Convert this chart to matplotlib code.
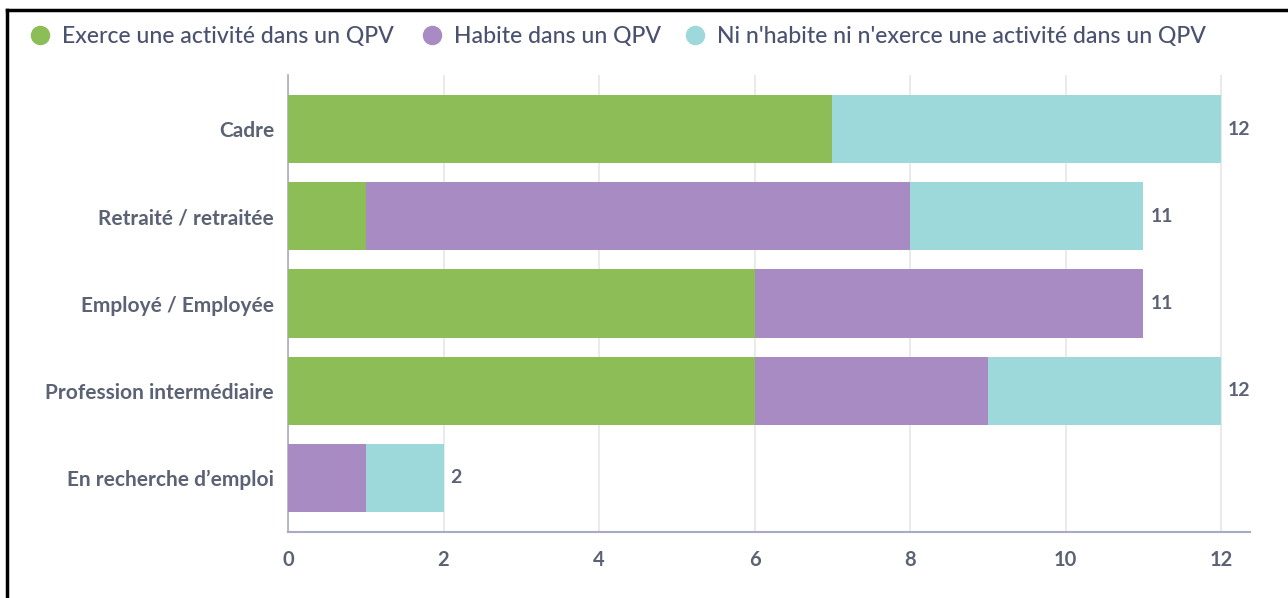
import matplotlib
matplotlib.use("Agg")
import matplotlib.pyplot as plt
from matplotlib.lines import Line2D
import numpy as np

plt.rcParams['font.family'] = ['Lato', 'DejaVu Sans']

categories = ["Cadre", "Retraité / retraitée", "Employé / Employée",
              "Profession intermédiaire", "En recherche d’emploi"]
series_names = ["Exerce une activité dans un QPV", "Habite dans un QPV",
                "Ni n'habite ni n'exerce une activité dans un QPV"]
exerce = [7, 1, 6, 6, 0]
habite = [0, 7, 5, 3, 1]
ni = [5, 3, 0, 3, 1]
xticks = [0, 2, 4, 6, 8, 10, 12]

colors = ["#8cbd56", "#a98bc3", "#9dd9da"]
text_col = "#5b6274"
legend_col = "#4a5270"

fig = plt.figure(figsize=(12.88, 5.98), dpi=100)
ax = fig.add_axes([288/1288, 1-532/598, (1250-288)/1288, (532-75)/598])

y = np.arange(len(categories))
left = np.zeros(len(categories))
for vals, col in zip([exerce, habite, ni], colors):
    v = np.array(vals, dtype=float)
    ax.barh(y, v, left=left, height=0.78, color=col, zorder=3)
    left += v

totals = left
for yi, t in zip(y, totals):
    ax.annotate(f"{int(t)}", xy=(t, yi), xytext=(5, 0), textcoords="offset points",
                ha="left", va="center", fontsize=14, fontweight="bold", color=text_col)

ax.set_ylim(len(categories) - 1 + 0.62, -0.62)
ax.set_xlim(0, 12.37)
ax.set_yticks(y)
ax.set_yticklabels(categories, fontsize=15, fontweight="bold", color=text_col)
ax.set_xticks(xticks)
ax.set_xticklabels([str(t) for t in xticks], fontsize=14.5, fontweight="bold", color=text_col)
ax.tick_params(axis="y", length=0, pad=10)
ax.tick_params(axis="x", length=0, pad=13)
ax.grid(axis="x", color="#e6e6e6", linewidth=1.2, zorder=0)
for s in ["top", "right"]:
    ax.spines[s].set_visible(False)
ax.spines["left"].set_color("#a9abc4")
ax.spines["bottom"].set_color("#a9abc4")
ax.spines["left"].set_linewidth(1.2)
ax.spines["bottom"].set_linewidth(1.5)

# Legend (manual placement)
leg_x = [40, 432, 695]
for xm, name, col in zip(leg_x, series_names, colors):
    fig.add_artist(Line2D([xm/1288], [1-35/598], marker="o", markersize=13,
                          color=col, linestyle="none", transform=fig.transFigure))
    fig.text((xm+22)/1288, 1-36/598, name, fontsize=16.6, fontweight="medium",
             color=legend_col, va="center", ha="left")

# Frame border
fig.add_artist(Line2D([7/1288, 7/1288], [0, 1-10/598], color="black", linewidth=2.5,
                      transform=fig.transFigure))
fig.add_artist(Line2D([7/1288, 1], [1-10/598, 1-10/598], color="black", linewidth=2.5,
                      transform=fig.transFigure))

fig.savefig("out.png", dpi=100)
